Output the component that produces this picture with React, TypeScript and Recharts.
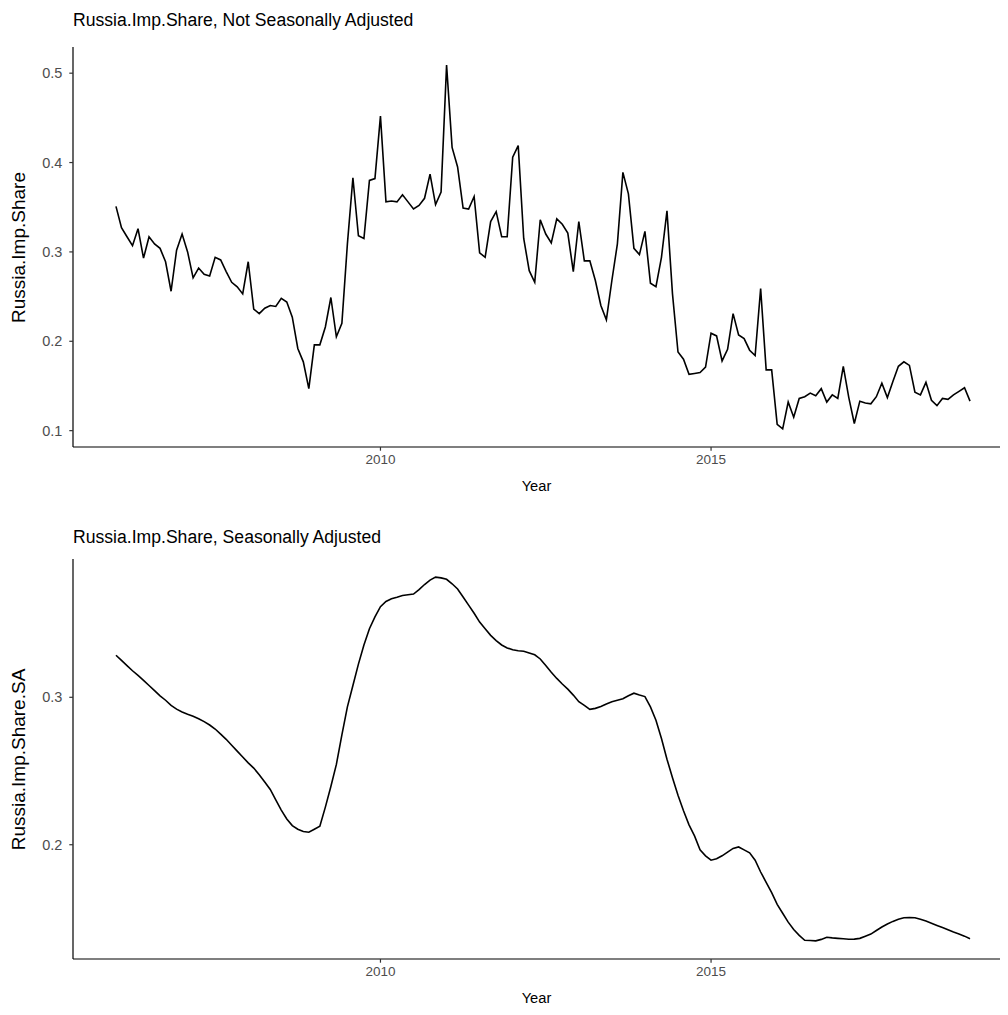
import { LineChart, Line, XAxis, YAxis } from "recharts";

// monthly, Jan 2006 .. Dec 2018
const startYear = 2006;

const nsaShare = [
  0.351, 0.327, 0.317, 0.307, 0.326, 0.293, 0.317, 0.309, 0.304, 0.289, 0.256, 0.302,
  0.32, 0.3, 0.271, 0.282, 0.275, 0.273, 0.294, 0.291, 0.278, 0.266, 0.261, 0.253,
  0.289, 0.236, 0.231, 0.237, 0.24, 0.239, 0.248, 0.244, 0.227, 0.192, 0.177, 0.147,
  0.196, 0.196, 0.216, 0.249, 0.205, 0.22, 0.309, 0.383, 0.318, 0.315, 0.38, 0.382,
  0.452, 0.356, 0.357, 0.356, 0.364, 0.356, 0.348, 0.352, 0.36, 0.387, 0.353, 0.367,
  0.509, 0.417, 0.395, 0.349, 0.348, 0.362, 0.299, 0.294, 0.334, 0.345, 0.317, 0.317,
  0.406, 0.419, 0.315, 0.279, 0.266, 0.336, 0.32, 0.31, 0.337, 0.331, 0.321, 0.278,
  0.334, 0.29, 0.29, 0.268, 0.24, 0.224, 0.268, 0.309, 0.389, 0.365, 0.304, 0.297,
  0.323, 0.265, 0.261, 0.294, 0.346, 0.253, 0.188, 0.18, 0.163, 0.164, 0.165, 0.171,
  0.209, 0.206, 0.178, 0.191, 0.231, 0.207, 0.203, 0.19, 0.184, 0.259, 0.168, 0.168,
  0.107, 0.102, 0.132, 0.115, 0.136, 0.138, 0.142, 0.139, 0.147, 0.132, 0.14, 0.136,
  0.172, 0.137, 0.108, 0.133, 0.131, 0.13, 0.138, 0.153, 0.137, 0.155, 0.172, 0.177,
  0.173, 0.143, 0.14, 0.154, 0.134, 0.128, 0.136, 0.135, 0.14, 0.144, 0.148, 0.133,
];

const saShare = [
  0.3285, 0.325, 0.3215, 0.318, 0.3148, 0.3115, 0.308, 0.3045, 0.301, 0.298, 0.2945, 0.292,
  0.29, 0.2885, 0.2872, 0.2855, 0.2835, 0.2812, 0.2785, 0.275, 0.2715, 0.2675, 0.2635, 0.2595,
  0.2555, 0.252, 0.2475, 0.2425, 0.2375, 0.2305, 0.2235, 0.2175, 0.213, 0.2105, 0.209, 0.2085,
  0.2105, 0.2125, 0.2255, 0.2395, 0.2545, 0.2745, 0.2935, 0.308, 0.3225, 0.3355, 0.3465, 0.3545,
  0.3615, 0.365, 0.3668, 0.3678, 0.369, 0.3695, 0.37, 0.373, 0.3765, 0.3795, 0.3815, 0.381,
  0.38, 0.377, 0.3735, 0.368, 0.3625, 0.357, 0.351, 0.3465, 0.342, 0.3385, 0.3355, 0.3335,
  0.3322, 0.3316, 0.3312, 0.33, 0.3288, 0.326, 0.3215, 0.317, 0.3128, 0.309, 0.3055, 0.3015,
  0.297, 0.2945, 0.2918, 0.2925, 0.2938, 0.2955, 0.297, 0.298, 0.299, 0.301, 0.3028, 0.3015,
  0.3005, 0.2935, 0.2845, 0.272, 0.258, 0.2455, 0.2335, 0.223, 0.2135, 0.206, 0.1965, 0.1925,
  0.1895, 0.1905, 0.1925, 0.195, 0.1975, 0.1985, 0.1965, 0.1945, 0.1895, 0.1815, 0.1745, 0.1675,
  0.1595, 0.1535, 0.1475, 0.1425, 0.1385, 0.1352, 0.135, 0.1348, 0.1358, 0.1372, 0.1368, 0.1365,
  0.1362, 0.1359, 0.136, 0.1365, 0.138, 0.1394, 0.1418, 0.1442, 0.1462, 0.148, 0.1495, 0.1505,
  0.1506, 0.1505, 0.1494, 0.1482, 0.1468, 0.1453, 0.1438, 0.1423, 0.1408, 0.1395, 0.138, 0.1362,
];

const yearTicks = [2010, 2015];
const nsaTicks = [0.1, 0.2, 0.3, 0.4, 0.5];
const saTicks = [0.2, 0.3];

const toRows = (vals: number[]) => vals.map((v, i) => ({ t: startYear + i / 12, v }));

const FONT = '"Liberation Sans", Arial, Helvetica, sans-serif';
const xTickStyle = { fontSize: 13.5, fill: "#4D4D4D", fontFamily: FONT };
const yTickStyle = { fontSize: 14.5, fill: "#4D4D4D", fontFamily: FONT };
const axisLine = { stroke: "#000", strokeWidth: 1.2 };
const tickLine = { stroke: "#333", strokeWidth: 1.2 };

function Panel({ top, height, plotTop, plotBottom, titleTop, rows, yDomain, yTicks, title, yTitle }: any) {
  return (
    <div style={{ position: "absolute", left: 0, top, width: 1008, height }}>
      <LineChart width={1008} height={height} data={rows} margin={{ top: plotTop, right: 8, left: 0, bottom: 0 }}>
        <XAxis
          type="number"
          dataKey="t"
          domain={[2005.35, 2019.37]}
          ticks={yearTicks}
          allowDataOverflow
          height={height - plotBottom}
          tick={xTickStyle}
          tickSize={3.7}
          tickMargin={4}
          axisLine={axisLine}
          tickLine={tickLine}
        />
        <YAxis
          type="number"
          domain={yDomain}
          ticks={yTicks}
          allowDataOverflow
          width={73}
          tick={yTickStyle}
          tickSize={3.7}
          tickMargin={7}
          axisLine={axisLine}
          tickLine={tickLine}
          tickFormatter={(v: number) => String(v)}
        />
        <Line type="linear" dataKey="v" stroke="#000" strokeWidth={1.6} dot={false} isAnimationActive={false} />
      </LineChart>
      <div style={{ position: "absolute", left: 73, top: titleTop, fontSize: 17.6, lineHeight: 1, fontFamily: FONT, color: "#000", whiteSpace: "nowrap" }}>
        {title}
      </div>
      <div style={{ position: "absolute", left: 73, width: 927, top: plotBottom + 31.5, fontSize: 14.7, lineHeight: 1, fontFamily: FONT, textAlign: "center" }}>
        Year
      </div>
      <div
        style={{
          position: "absolute",
          left: 18 - 200,
          width: 400,
          top: (plotTop + plotBottom) / 2 - 9.5,
          height: 19,
          fontSize: 19,
          lineHeight: 1,
          fontFamily: FONT,
          textAlign: "center",
          transform: "rotate(-90deg)",
          whiteSpace: "nowrap",
        }}
      >
        {yTitle}
      </div>
    </div>
  );
}

export default function App() {
  return (
    <div style={{ position: "absolute", left: 0, top: 0, width: 1008, height: 1015, background: "#fff", overflow: "hidden" }}>
      <Panel
        top={0}
        height={505}
        plotTop={47}
        plotBottom={447}
        titleTop={12}
        rows={toRows(nsaShare)}
        yDomain={[0.0817, 0.5293]}
        yTicks={nsaTicks}
        title="Russia.Imp.Share, Not Seasonally Adjusted"
        yTitle="Russia.Imp.Share"
      />
      <Panel
        top={505}
        height={510}
        plotTop={54}
        plotBottom={454}
        titleTop={24}
        rows={toRows(saShare)}
        yDomain={[0.1225, 0.3938]}
        yTicks={saTicks}
        title="Russia.Imp.Share, Seasonally Adjusted"
        yTitle="Russia.Imp.Share.SA"
      />
    </div>
  );
}
